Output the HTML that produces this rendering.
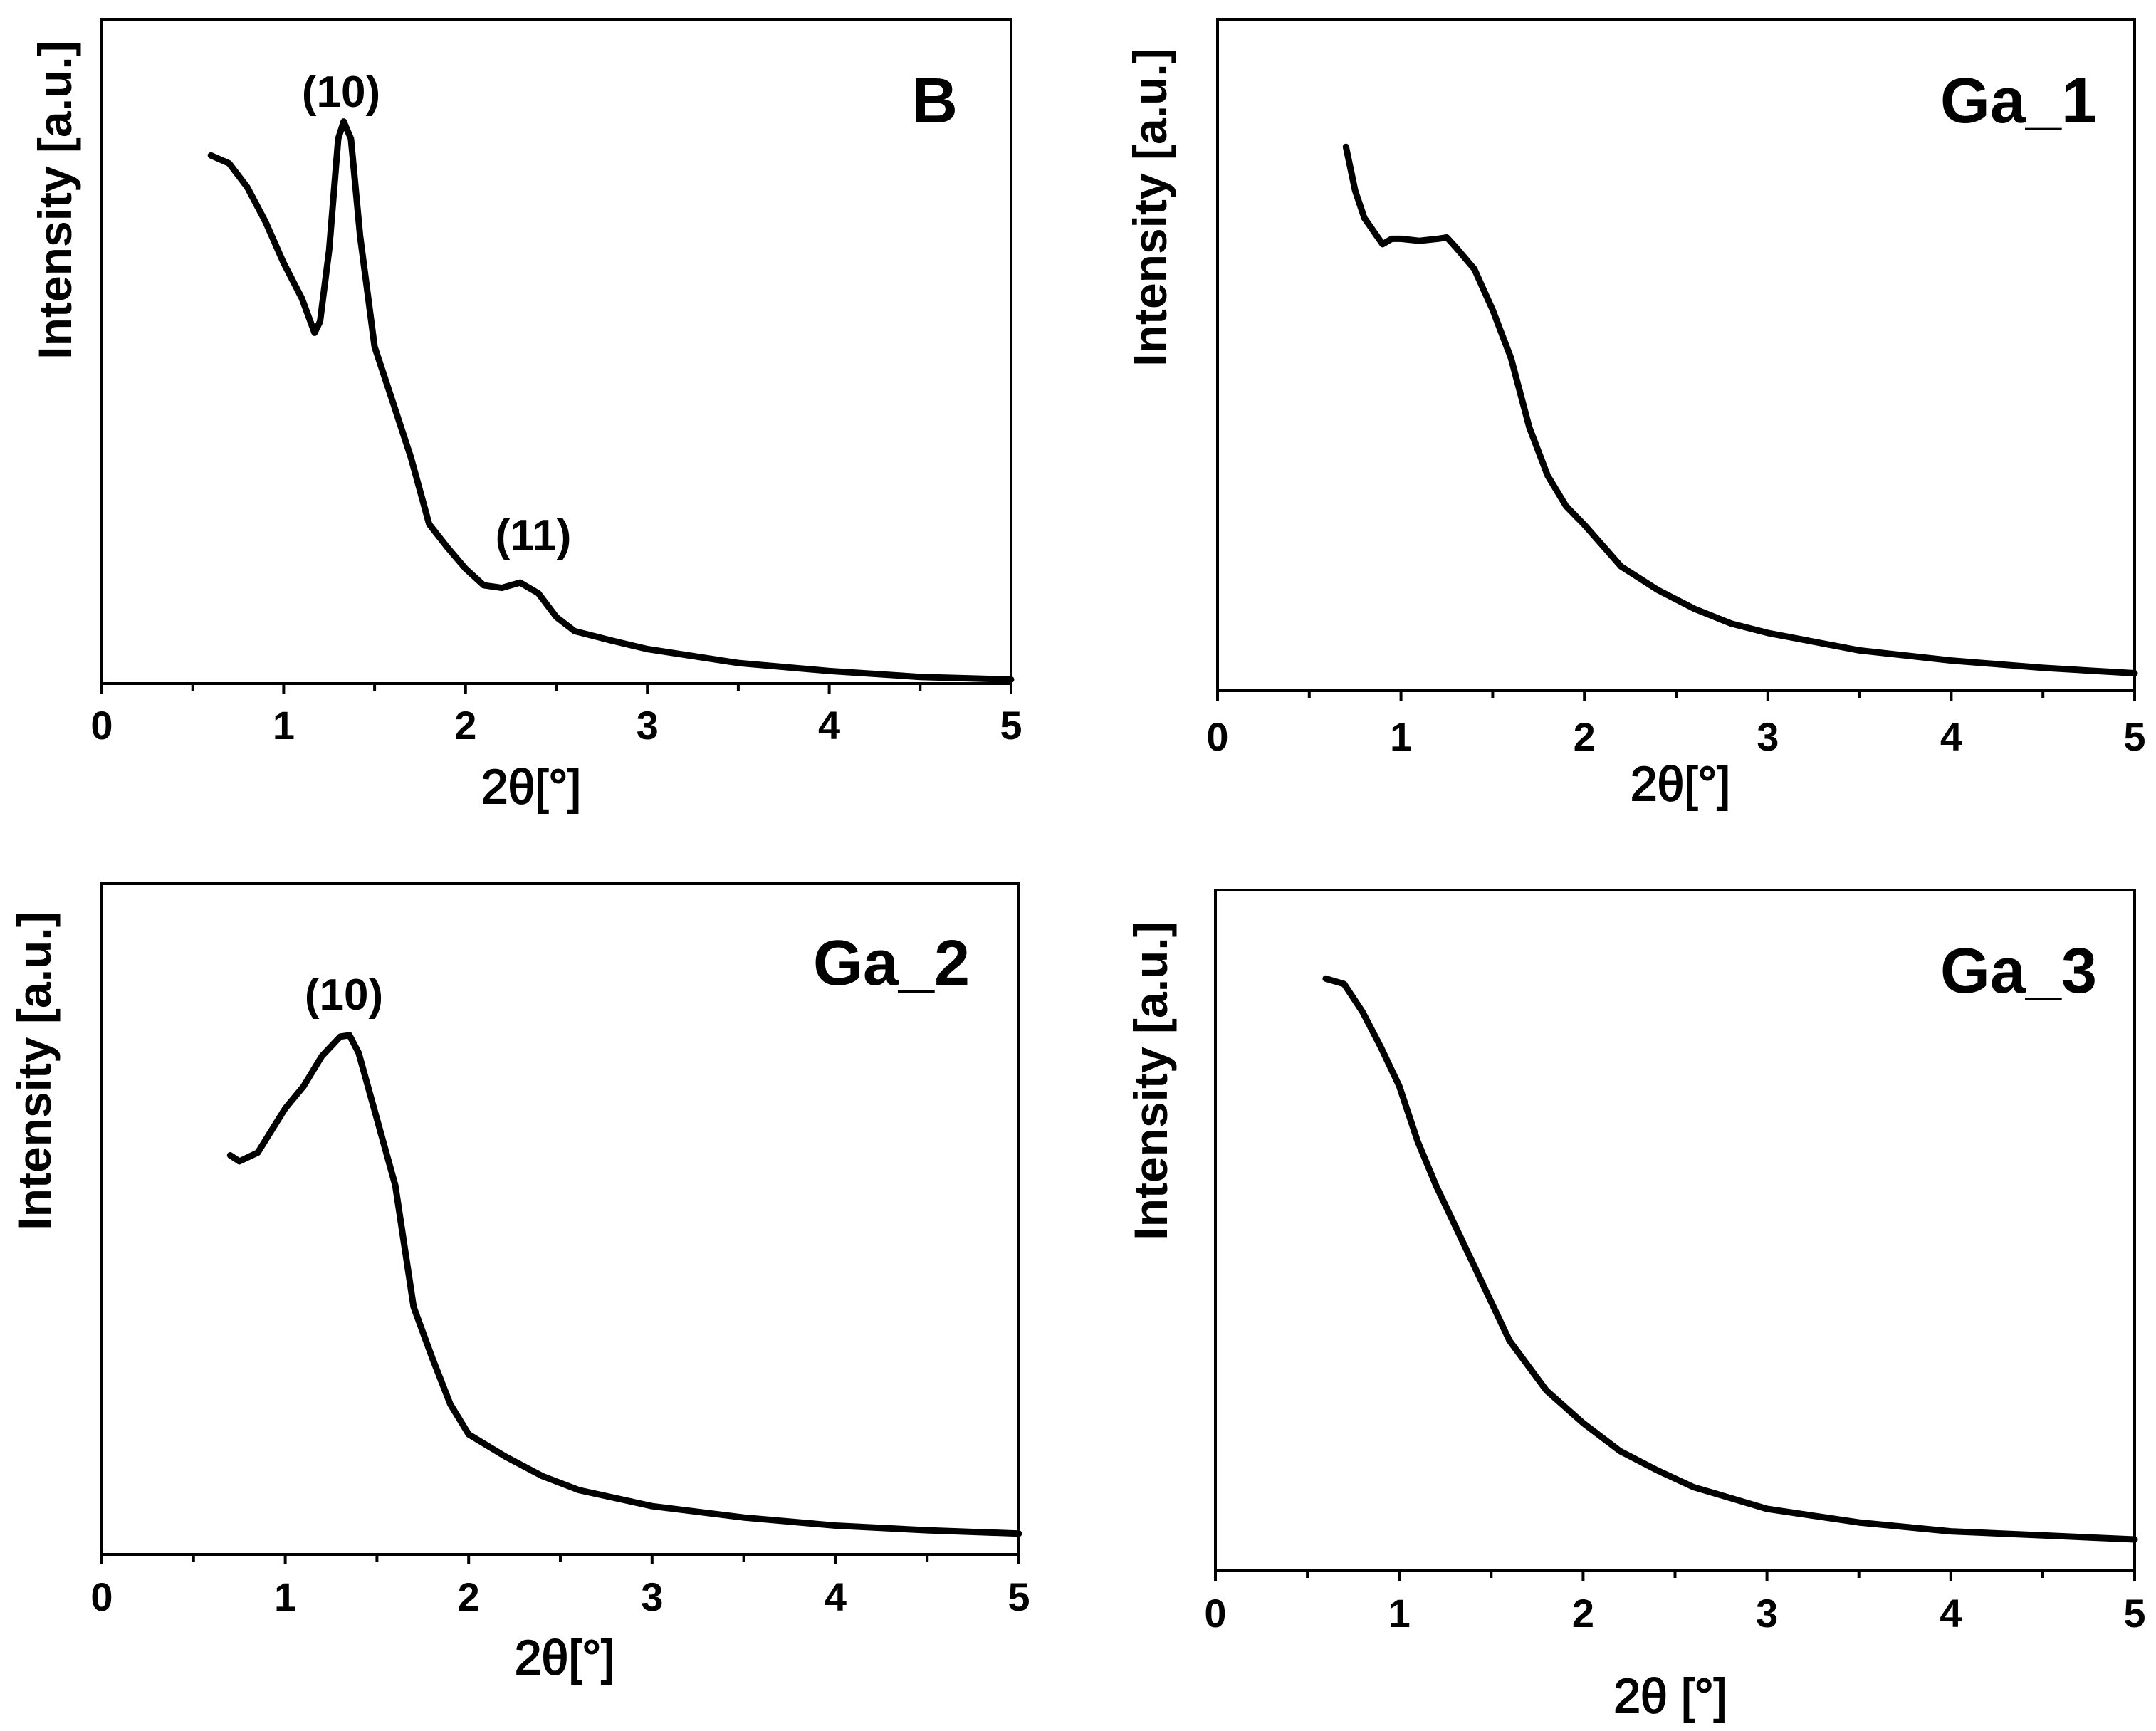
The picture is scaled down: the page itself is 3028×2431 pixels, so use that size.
<!DOCTYPE html>
<html><head><meta charset="utf-8"><style>
html,body{margin:0;padding:0;background:#fff;}
svg{display:block;}
text{font-family:"Liberation Sans",Arial,sans-serif;font-weight:bold;fill:#000;}
</style></head>
<body>
<svg id="fig" width="3028" height="2431" viewBox="0 0 3028 2431" xmlns="http://www.w3.org/2000/svg"></svg>
<script>
// ---- data (x = 2θ in degrees, y = relative intensity 0..1 of plot height) ----
const xTicks = [0, 1, 2, 3, 4, 5];
const xTickLabels = ["0", "1", "2", "3", "4", "5"];

const bX = [0.6,0.7,0.8,0.9,1.0,1.1,1.17,1.2,1.25,1.3,1.33,1.37,1.42,1.5,1.6,1.7,1.8,1.9,2.0,2.1,2.2,2.3,2.4,2.5,2.6,2.8,3.0,3.5,4.0,4.5,5.0];
const bY = [0.795,0.783,0.747,0.695,0.633,0.580,0.528,0.545,0.653,0.820,0.846,0.820,0.674,0.507,0.424,0.340,0.240,0.205,0.173,0.148,0.144,0.152,0.136,0.100,0.079,0.065,0.052,0.031,0.019,0.010,0.006];

const ga1X = [0.70,0.75,0.8,0.9,0.95,1.0,1.1,1.2,1.25,1.3,1.4,1.5,1.6,1.7,1.8,1.9,2.0,2.2,2.4,2.6,2.8,3.0,3.5,4.0,4.5,5.0];
const ga1Y = [0.810,0.745,0.704,0.665,0.673,0.673,0.670,0.673,0.675,0.660,0.628,0.567,0.495,0.392,0.320,0.275,0.247,0.185,0.150,0.122,0.100,0.086,0.060,0.045,0.034,0.026];

const ga2X = [0.7,0.75,0.85,1.0,1.1,1.2,1.3,1.35,1.4,1.5,1.6,1.7,1.8,1.9,2.0,2.2,2.4,2.6,2.8,3.0,3.5,4.0,4.5,5.0];
const ga2Y = [0.595,0.586,0.599,0.665,0.698,0.743,0.772,0.774,0.748,0.649,0.550,0.369,0.294,0.224,0.179,0.146,0.117,0.096,0.084,0.072,0.055,0.043,0.036,0.031];

const ga3X = [0.6,0.7,0.8,0.9,1.0,1.1,1.2,1.3,1.4,1.5,1.6,1.8,2.0,2.2,2.4,2.6,2.8,3.0,3.5,4.0,4.5,5.0];
const ga3Y = [0.870,0.862,0.821,0.769,0.712,0.631,0.566,0.509,0.452,0.395,0.338,0.265,0.217,0.176,0.148,0.123,0.107,0.091,0.071,0.058,0.052,0.046];

const NS = "http://www.w3.org/2000/svg";
const svg = document.getElementById('fig');
function mk(tag, attrs, parent){
  const e = document.createElementNS(NS, tag);
  for (const k in attrs) e.setAttribute(k, attrs[k]);
  (parent||svg).appendChild(e);
  return e;
}

function drawPanel(p){
  const g = mk('g', {});
  
  
  const sx = v => p.l + (v - 0) / 5 * (p.r - p.l);
  const sy = v => p.b - v * (p.b - p.t);
  const frame = mk('rect', {x:p.l, y:p.t, width:p.r-p.l, height:p.b-p.t, fill:'none', stroke:'#000', 'stroke-width':4}, g);
  
  
  for (let i = 0; i <= 10; i++){
    const v = i * 0.5;
    const x = sx(v);
    const len = (i % 2 === 0) ? 14 : 10;
    const t = mk('line', {x1:x, y1:p.b, x2:x, y2:p.b+len, stroke:'#000', 'stroke-width':4}, g);
    
    
  }
  xTicks.forEach((v, i) => {
    const t = mk('text', {x:sx(v), y:p.tickY + 4, 'font-size':56, 'text-anchor':'middle'}, g);
    t.textContent = xTickLabels[i];
    
    
  });
  const xt = mk('text', {x:p.xtX, y:p.xtY + 4, 'font-size':68, 'text-anchor':'middle', style:'font-weight:normal;stroke:#000;stroke-width:2'}, g);
  xt.textContent = p.xtitle;
  
  
  const yt = mk('text', {x:0, y:0, 'font-size':66, 'text-anchor':'middle', transform:`translate(${p.ytX + 2},${p.ytY}) rotate(-90)`}, g);
  yt.textContent = 'Intensity [a.u.]';
  
  
  const sl = mk('text', {x:p.lab[0], y:p.lab[1], 'font-size':90, 'text-anchor':'end'}, g);
  sl.textContent = p.label;
  
  
  let d = '';
  p.xs.forEach((v, i) => { d += (i ? 'L' : 'M') + sx(v).toFixed(1) + ',' + sy(p.ys[i]).toFixed(1); });
  const c = mk('path', {d:d, fill:'none', stroke:'#000', 'stroke-width':9, 'stroke-linejoin':'round', 'stroke-linecap':'round'}, g);
  
  
  (p.ann || []).forEach(a => {
    const t = mk('text', {x:a[1], y:a[2], 'font-size':62, 'text-anchor':'middle'}, g);
    t.textContent = a[0];
    
    
  });
}

drawPanel({key:'b', l:143, r:1420, t:27, b:960, tickY:1034, xtX:746, xtY:1124, xtitle:'2θ[°]', ytX:98, ytY:281,
  label:'B', lab:[1345,172], xs:bX, ys:bY, ann:[['(10)',479,150],['(11)',749,773]]});
drawPanel({key:'ga1', l:1710, r:2998, t:27, b:970, tickY:1050, xtX:2360, xtY:1120, xtitle:'2θ[°]', ytX:1636, ytY:291,
  label:'Ga_1', lab:[2945,172], xs:ga1X, ys:ga1Y});
drawPanel({key:'ga2', l:143, r:1431, t:1241, b:2183, tickY:2258, xtX:793, xtY:2347, xtitle:'2θ[°]', ytX:69, ytY:1504,
  label:'Ga_2', lab:[1362,1383], xs:ga2X, ys:ga2Y, ann:[['(10)',483,1418]]});
drawPanel({key:'ga3', l:1707, r:2998, t:1250, b:2206, tickY:2281, xtX:2346, xtY:2401, xtitle:'2θ [°]', ytX:1637, ytY:1518,
  label:'Ga_3', lab:[2945,1394], xs:ga3X, ys:ga3Y});
</script>
</body></html>
